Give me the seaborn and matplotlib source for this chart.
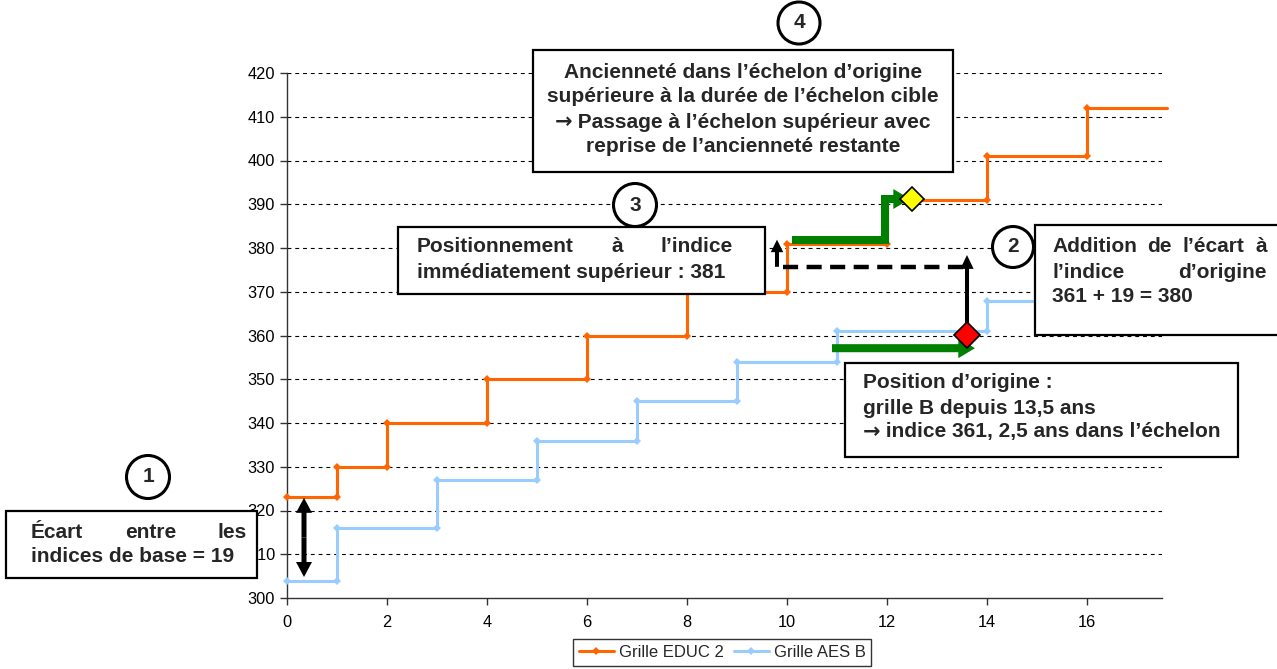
import matplotlib
matplotlib.use("Agg")
import matplotlib.pyplot as plt
import matplotlib.patches as mpatches
import pandas as pd
import seaborn as sns

# Grille EDUC 2 (orange) and Grille AES B (bleu) : years vs indice
annees_educ = [0, 1, 1, 2, 2, 4, 4, 6, 6, 8, 8, 10, 10, 12, 12, 14, 14, 16, 16, 17.6]
indices_educ = [323, 323, 330, 330, 340, 340, 350, 350, 360, 360, 370, 370,
                381, 381, 391, 391, 401, 401, 412, 412]
annees_aes = [0, 1, 1, 3, 3, 5, 5, 7, 7, 9, 9, 11, 11, 14, 14, 17.6]
indices_aes = [304, 304, 316, 316, 327, 327, 336, 336, 345, 345, 354, 354,
               361, 361, 368, 368]
series_names = ["Grille EDUC 2", "Grille AES B"]
series_colors = ["#FF6600", "#99CCFF"]

W, H = 1277, 669

df = pd.concat([
    pd.DataFrame({"annee": annees_educ, "indice": indices_educ, "grille": series_names[0]}),
    pd.DataFrame({"annee": annees_aes, "indice": indices_aes, "grille": series_names[1]}),
], ignore_index=True)

sns.set_theme(style="ticks")
plt.rcParams["font.family"] = ["Liberation Sans", "DejaVu Sans"]

fig = plt.figure(figsize=(W / 100, H / 100), dpi=100)
ax = fig.add_axes([287 / W, 1 - 598 / H, (1162 - 287) / W, (598 - 73) / H])

sns.lineplot(data=df, x="annee", y="indice", hue="grille", palette=series_colors,
             sort=False, estimator=None, marker="D", markersize=4.2,
             markeredgewidth=0, linewidth=2.2, markevery=slice(None, -1),
             clip_on=False, ax=ax, zorder=3)

ax.set_xlim(0, 17.5)
ax.set_ylim(300, 420)
ax.set_xticks(range(0, 17, 2))
ax.set_yticks(range(300, 421, 10))
ax.set_xlabel("")
ax.set_ylabel("")
ax.tick_params(labelsize=11.8, length=5, width=1, color="#333333", labelcolor="black")
ax.tick_params(axis="x", pad=7)
for s in ["top", "right"]:
    ax.spines[s].set_visible(False)
for s in ["left", "bottom"]:
    ax.spines[s].set_color("#333333")
    ax.spines[s].set_linewidth(1)
for yv in range(310, 421, 10):
    ax.axhline(yv, color="black", lw=0.8, ls=(0, (3.5, 3.5)), zorder=1)

leg = ax.legend(loc="upper center", bbox_to_anchor=(722 / W, 1 - 639 / H),
                bbox_transform=fig.transFigure, ncol=2, fontsize=12,
                frameon=True, fancybox=False, handlelength=2.1, borderaxespad=0,
                handletextpad=0.3, columnspacing=0.6, borderpad=0.35)
leg.get_frame().set_edgecolor("black")
leg.get_frame().set_linewidth(1)


def arrow(p0, p1, hl, hw, tw, color="black", z=6):
    ax.add_patch(mpatches.FancyArrowPatch(
        p0, p1, arrowstyle=f"simple,head_length={hl},head_width={hw},tail_width={tw}",
        mutation_scale=1, color=color, lw=0, shrinkA=0, shrinkB=0, zorder=z,
        clip_on=False))


# (1) double arrow between base indices
arrow((0.34, 313.8), (0.34, 322.9), 10.8, 11.5, 3.6)
arrow((0.34, 313.8), (0.34, 304.8), 10.8, 11.5, 3.6)

# green arrows
arrow((10.9, 357.1), (13.76, 357.1), 12, 14.4, 5.8, color="#008000")
ax.plot([10.1, 11.96, 11.96, 12.2], [381.8, 381.8, 391.2, 391.2], color="#008000",
        lw=5.8, solid_joinstyle="miter", solid_capstyle="butt", zorder=6)
arrow((12.1, 391.2), (12.46, 391.2), 12, 14.4, 5.8, color="#008000")

# (2) black arrow and dashed line
arrow((13.6, 361), (13.6, 378.4), 10, 9.5, 2.9)
ax.plot([9.92, 13.6], [375.7, 375.7], color="black", lw=3.2, ls=(0, (3.4, 1.9)), zorder=6)
arrow((9.8, 375.7), (9.8, 381.9), 9, 9, 2.9)

# diamonds
ax.plot([13.6], [360.1], marker="D", markersize=13.5, color="#FF0000",
        markeredgecolor="black", markeredgewidth=1.2, zorder=8, clip_on=False)
ax.plot([12.5], [391.2], marker="D", markersize=12, color="#FFFF00",
        markeredgecolor="black", markeredgewidth=1.2, zorder=8, clip_on=False)


def fx(x):
    return x / W


def fy(y):
    return 1 - y / H


def box(x0, y0, x1, y1):
    fig.patches.append(mpatches.Rectangle((fx(x0), fy(y1)), (x1 - x0) / W, (y1 - y0) / H,
                                          transform=fig.transFigure, facecolor="white",
                                          edgecolor="black", lw=1.6, zorder=10))


def circle(cx, cy, r, num):
    fig.patches.append(mpatches.Ellipse((fx(cx), fy(cy)), 2 * r / W, 2 * r / H,
                                        transform=fig.transFigure, facecolor="white",
                                        edgecolor="black", lw=2.2, zorder=10))
    fig.text(fx(cx), fy(cy), num, ha="center", va="center", fontsize=15,
             fontweight="bold", zorder=11)


TXT = dict(fontsize=15, fontweight="bold", va="center", zorder=11)
ARROW_FONT = ["DejaVu Sans"]


def line(x, y, s, ha="left"):
    fig.text(fx(x), fy(y), s, ha=ha, **TXT)


def widths(ts):
    r = fig.canvas.get_renderer()
    return [t.get_window_extent(r).width for t in ts]


def justified(x0, x1, y, s):
    words = s.split()
    ts = [fig.text(0, fy(y), w, ha="left", **TXT) for w in words]
    ws = widths(ts)
    gap = ((x1 - x0) - sum(ws)) / (len(words) - 1)
    x = x0
    for t, w in zip(ts, ws):
        t.set_x(fx(x))
        x += w + gap


def arrow_line(x, y, s, center=False):
    # heavy arrow glyph followed by the rest of the sentence
    ts = [fig.text(0, fy(y), "→", ha="left", family=ARROW_FONT, **TXT),
          fig.text(0, fy(y), " " + s, ha="left", **TXT)]
    ws = widths(ts)
    if center:
        x = x - sum(ws) / 2
    for t, w in zip(ts, ws):
        t.set_x(fx(x))
        x += w


# (1)
box(6, 511, 257, 578)
justified(31, 247, 532, "Écart entre les")
line(31, 556, "indices de base = 19")
circle(148, 477, 21.5, "1")

# (3)
box(398, 227, 765, 294)
justified(417, 733, 247, "Positionnement à l’indice")
line(417, 272, "immédiatement supérieur : 381")
circle(635, 205, 21.5, "3")

# (4)
box(533, 50, 953, 172)
line(743, 72, "Ancienneté dans l’échelon d’origine", ha="center")
line(743, 97, "supérieure à la durée de l’échelon cible", ha="center")
arrow_line(743, 122, "Passage à l’échelon supérieur avec", center=True)
line(743, 147, "reprise de l’ancienneté restante", ha="center")
circle(799, 23, 21, "4")

# (2)
box(1035, 225, 1290, 335)
justified(1052, 1267, 247, "Addition de l’écart à")
justified(1052, 1267, 272, "l’indice d’origine")
line(1052, 297, "361 + 19 = 380")
circle(1013, 247, 20.5, "2")

# position d'origine
box(845, 363, 1238, 457)
line(863, 383, "Position d’origine :")
line(863, 408, "grille B depuis 13,5 ans")
arrow_line(863, 432, "indice 361, 2,5 ans dans l’échelon")

fig.savefig("out.png", dpi=100)
